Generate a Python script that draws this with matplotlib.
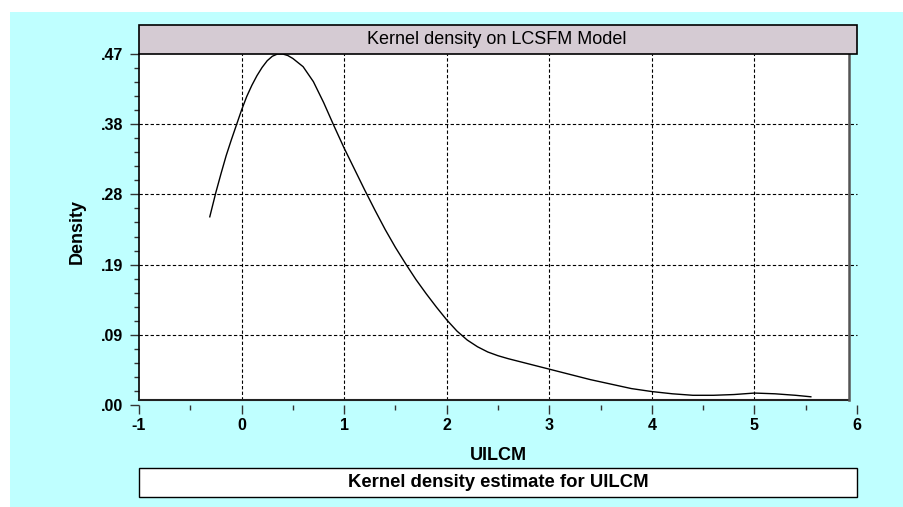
import matplotlib
matplotlib.use("Agg")
import matplotlib.pyplot as plt
from matplotlib.patches import Rectangle
import numpy as np

plt.rcParams['font.family'] = ['Liberation Sans', 'DejaVu Sans']

# ---- data ----
uilcm = [-0.31, -0.25, -0.2, -0.15, -0.1, -0.05, 0.0, 0.05, 0.1, 0.15, 0.2, 0.25,
         0.3, 0.35, 0.4, 0.45, 0.5, 0.6, 0.7, 0.8, 0.9, 1.0, 1.1, 1.2, 1.3, 1.4,
         1.5, 1.6, 1.7, 1.8, 1.9, 2.0, 2.1, 2.2, 2.3, 2.4, 2.5, 2.6, 2.8, 3.0,
         3.2, 3.4, 3.6, 3.8, 4.0, 4.2, 4.4, 4.6, 4.8, 5.0, 5.2, 5.4, 5.55]
density = [0.252, 0.285, 0.310, 0.334, 0.355, 0.375, 0.395, 0.413, 0.428, 0.441,
           0.452, 0.461, 0.467, 0.470, 0.470, 0.468, 0.464, 0.453, 0.433, 0.405,
           0.374, 0.344, 0.316, 0.288, 0.261, 0.235, 0.211, 0.189, 0.168, 0.149,
           0.131, 0.114, 0.099, 0.087, 0.078, 0.071, 0.066, 0.062, 0.055, 0.048,
           0.041, 0.034, 0.028, 0.022, 0.018, 0.015, 0.013, 0.013, 0.014, 0.016,
           0.015, 0.013, 0.011]
x_ticks = [-1, 0, 1, 2, 3, 4, 5, 6]
x_ticklabels = ['-1', '0', '1', '2', '3', '4', '5', '6']
y_ticks = [0.0, 0.094, 0.188, 0.282, 0.376, 0.47]
y_ticklabels = ['.00', '.09', '.19', '.28', '.38', '.47']
title = "Kernel density on LCSFM Model"
caption = "Kernel density estimate for UILCM"
xlabel = "UILCM"
ylabel = "Density"

W, H = 904, 507
fig = plt.figure(figsize=(W / 100, H / 100), dpi=100, facecolor='white')


def fx(x):
    return x / W


def fy(y):
    return 1 - y / H


def prect(x0, y0, x1, y1, **kw):
    r = Rectangle((fx(x0), fy(y1)), fx(x1) - fx(x0), fy(y0) - fy(y1),
                  transform=fig.transFigure, **kw)
    fig.add_artist(r)
    return r


# background
prect(10, 12, 904, 507, facecolor='#bfffff', edgecolor='none', zorder=-3)
# plot frame (white)
prect(139, 54, 849, 400, facecolor='white', edgecolor='none', zorder=-2)

# axes: data area -1..6 maps to px 139..857, 0..0.47 maps to px 405..54
ax = fig.add_axes([fx(139), fy(405), fx(857) - fx(139), fy(54) - fy(405)])
ax.set_facecolor('none')
ax.set_xlim(-1, 6)
ax.set_ylim(0, 0.47)
for s in ax.spines.values():
    s.set_visible(False)

ax.set_xticks(x_ticks)
ax.set_xticklabels(x_ticklabels, fontweight='bold', fontsize=11.5)
ax.set_yticks(y_ticks)
ax.set_yticklabels(y_ticklabels, fontweight='bold', fontsize=11.5)
ax.set_xticks(np.arange(-0.5, 6, 1.0), minor=True)
ax.set_yticks(np.arange(0, 0.47, 0.094 / 5), minor=True)
ax.tick_params(axis='both', which='major', length=6.5, width=1.0, color='#333333')
ax.tick_params(axis='both', which='minor', length=3.5, width=1.0, color='#333333')
ax.tick_params(axis='y', which='major', pad=5)
ax.tick_params(axis='x', which='major', pad=3)

# grid (dashed)
frame_bottom_frac = (405 - 400) / (405 - 54)
for xv in x_ticks[1:-1]:
    ax.plot([xv, xv], [frame_bottom_frac * 0.47, 0.47], color='black', lw=0.8,
            ls=(0, (3, 2)), zorder=1)
for yv in y_ticks[1:-1]:
    ax.plot([-1, 6], [yv, yv], color='black', lw=0.8, ls=(0, (3, 2)), zorder=1,
            clip_on=False)

# density curve
ax.plot(uilcm, density, color='black', lw=1.0, zorder=3, clip_on=False)

# frame borders
fig.add_artist(plt.Line2D([fx(139), fx(139)], [fy(54), fy(400)], transform=fig.transFigure,
                          color='black', lw=1.2, zorder=2))
fig.add_artist(plt.Line2D([fx(139), fx(849)], [fy(400), fy(400)], transform=fig.transFigure,
                          color='#222222', lw=1.5, zorder=2))
fig.add_artist(plt.Line2D([fx(849), fx(849)], [fy(54), fy(400)], transform=fig.transFigure,
                          color='#555555', lw=1.8, zorder=2))

# title box
prect(139, 25, 857, 54, facecolor='#d5cbd3', edgecolor='black', lw=1.2, zorder=4)
fig.text(fx(497), fy(39.5), title, ha='center', va='center', fontsize=13, zorder=5)

# caption box
prect(139, 468, 857, 497, facecolor='white', edgecolor='black', lw=1.0, zorder=4)
fig.text(fx(498), fy(482.5), caption, ha='center', va='center', fontsize=13.3,
         fontweight='bold', zorder=5)

# axis labels
fig.text(fx(498), fy(455), xlabel, ha='center', va='center', fontsize=13, fontweight='bold')
fig.text(fx(77), fy(232), ylabel, ha='center', va='center', fontsize=13,
         fontweight='bold', rotation=90)

fig.savefig('out.png', dpi=100, facecolor='white')
